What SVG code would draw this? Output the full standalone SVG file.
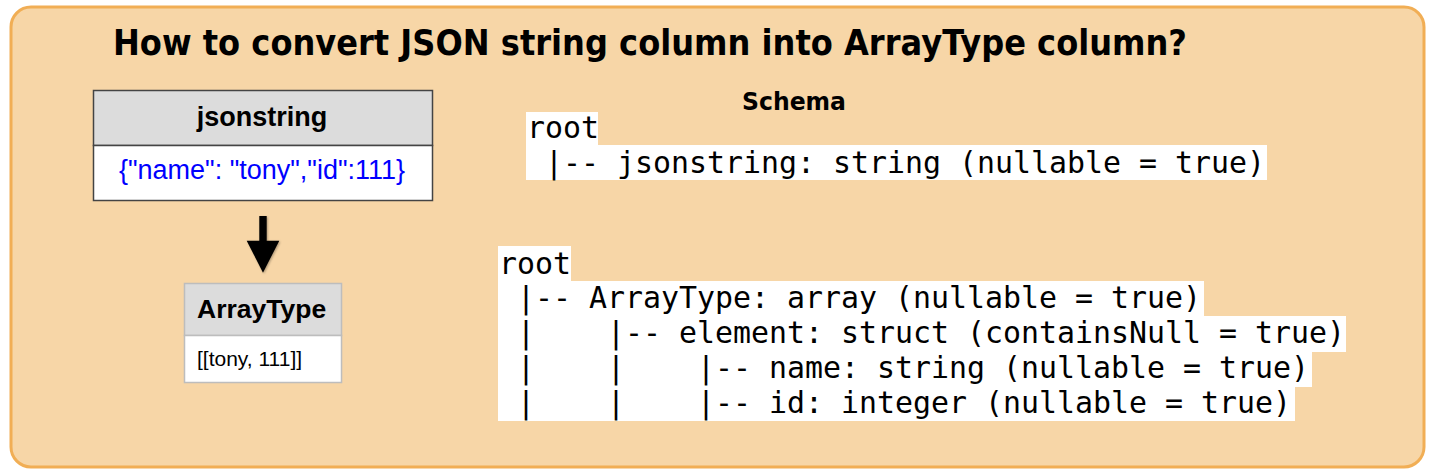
<svg xmlns="http://www.w3.org/2000/svg" width="1434" height="476" viewBox="0 0 1434 476">
<style>
.title{font-family:"DejaVu Sans",sans-serif;font-weight:bold;fill:#000}
.hdr{font-family:"Liberation Sans",Arial,sans-serif;font-weight:bold;fill:#000}
.cell{font-family:"Liberation Sans",Arial,sans-serif;fill:#000}
.mono{font-family:"DejaVu Sans Mono",monospace;font-size:30px;fill:#000;white-space:pre}
.hl{fill:#ffffff}
</style>
<defs>
<filter id="sh" x="-20%" y="-20%" width="140%" height="140%">
<feDropShadow dx="1" dy="1" stdDeviation="1" flood-color="#000" flood-opacity="0.3"/>
</filter>
</defs>
<g id="background">
<rect x="11" y="7" width="1413" height="460" rx="20" ry="20" fill="#f7d6a7" stroke="#f1ae55" stroke-width="3"/>
</g>
<g id="title">
<text class="title" x="113" y="55" font-size="35" textLength="1074" lengthAdjust="spacingAndGlyphs">How to convert JSON string column into ArrayType column?</text>
</g>
<g id="jsonstring-table">
<rect x="93.5" y="90.5" width="339" height="55" fill="#dcdcdc" stroke="#444" stroke-width="1.5"/>
<rect x="93.5" y="145.5" width="339" height="55" fill="#ffffff" stroke="#444" stroke-width="1.5"/>
<text class="hdr" x="262" y="126" font-size="27" text-anchor="middle">jsonstring</text>
<text class="cell" x="262" y="179" font-size="27" text-anchor="middle" style="fill:#0000ff">{"name": "tony","id":111}</text>
</g>
<g id="connectors">
<path d="M259.3 216 H266.7 V240.7 H279.3 L263 272.7 L246.7 240.7 H259.3 Z" fill="#000" filter="url(#sh)"/>
</g>
<g id="arraytype-table">
<rect x="184.5" y="283.5" width="157" height="52" fill="#dcdcdc" stroke="#bdbdbd" stroke-width="1.5"/>
<rect x="184.5" y="335.5" width="157" height="47" fill="#ffffff" stroke="#bdbdbd" stroke-width="1.5"/>
<text class="hdr" x="197" y="318" font-size="26.5">ArrayType</text>
<text class="cell" x="197" y="366" font-size="21">[[tony, 111]]</text>
</g>
<g id="schema-label">
<text class="title" x="742" y="110" font-size="25" textLength="104" lengthAdjust="spacingAndGlyphs">Schema</text>
</g>
<g id="schema-string">
<rect class="hl" x="526" y="112" width="72" height="34"/>
<rect class="hl" x="526" y="145" width="741" height="35"/>
<text class="mono" x="527" y="138" textLength="72" lengthAdjust="spacingAndGlyphs">root</text>
<text class="mono" x="527" y="173" textLength="738" lengthAdjust="spacingAndGlyphs"> |-- jsonstring: string (nullable = true)</text>
</g>
<g id="schema-array">
<rect class="hl" x="498" y="246" width="73" height="36"/>
<rect class="hl" x="498" y="281" width="706" height="36"/>
<rect class="hl" x="498" y="316" width="848" height="36"/>
<rect class="hl" x="498" y="351" width="814" height="36"/>
<rect class="hl" x="498" y="386" width="797" height="35"/>
<text class="mono" x="499" y="274" textLength="72" lengthAdjust="spacingAndGlyphs">root</text>
<text class="mono" x="499" y="308" textLength="702" lengthAdjust="spacingAndGlyphs"> |-- ArrayType: array (nullable = true)</text>
<text class="mono" x="499" y="343" textLength="846" lengthAdjust="spacingAndGlyphs"> |    |-- element: struct (containsNull = true)</text>
<text class="mono" x="499" y="378" textLength="810" lengthAdjust="spacingAndGlyphs"> |    |    |-- name: string (nullable = true)</text>
<text class="mono" x="499" y="413" textLength="792" lengthAdjust="spacingAndGlyphs"> |    |    |-- id: integer (nullable = true)</text>
</g>
</svg>
